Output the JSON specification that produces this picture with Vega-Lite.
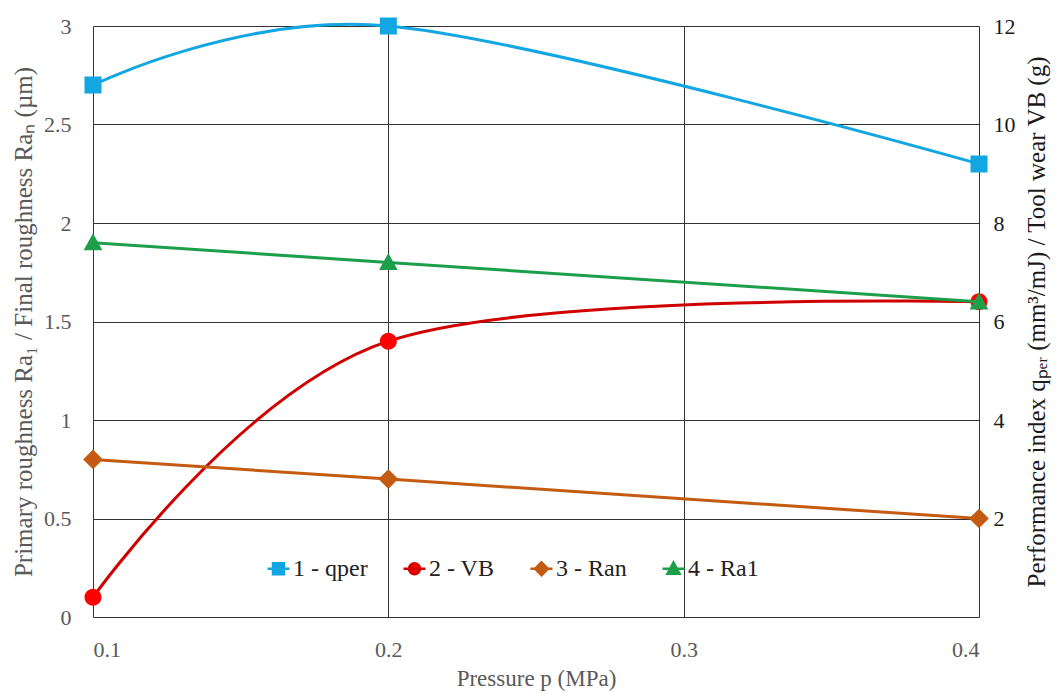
{
  "$schema": "https://vega.github.io/schema/vega-lite/v6.json",
  "width": 886,
  "height": 591,
  "autosize": {"type": "none"},
  "padding": {"left": 93, "top": 26, "right": 77, "bottom": 76},
  "background": "white",
  "config": {
    "view": {"stroke": null},
    "font": "Liberation Serif",
    "legend": {
      "orient": "none",
      "legendX": 173,
      "legendY": 530,
      "direction": "horizontal",
      "title": null,
      "symbolSize": 484,
      "symbolStrokeWidth": 2.5,
      "labelFont": "Liberation Serif",
      "labelFontSize": 24,
      "labelColor": "#222222",
      "columnPadding": 30,
      "labelOffset": 2
    }
  },
  "data": {
    "values": [
      {"p": 0.1, "series": "1 - qper", "value": 10.8, "axis": "right"},
      {"p": 0.2, "series": "1 - qper", "value": 12.0, "axis": "right"},
      {"p": 0.4, "series": "1 - qper", "value": 9.2, "axis": "right"},
      {"p": 0.1, "series": "2 - VB", "value": 0.4, "axis": "right"},
      {"p": 0.2, "series": "2 - VB", "value": 5.6, "axis": "right"},
      {"p": 0.4, "series": "2 - VB", "value": 6.4, "axis": "right"},
      {"p": 0.1, "series": "3 - Ran", "value": 0.8, "axis": "left"},
      {"p": 0.2, "series": "3 - Ran", "value": 0.7, "axis": "left"},
      {"p": 0.4, "series": "3 - Ran", "value": 0.5, "axis": "left"},
      {"p": 0.1, "series": "4 - Ra1", "value": 1.9, "axis": "left"},
      {"p": 0.2, "series": "4 - Ra1", "value": 1.8, "axis": "left"},
      {"p": 0.4, "series": "4 - Ra1", "value": 1.6, "axis": "left"}
    ]
  },
  "encoding": {
    "x": {
      "field": "p",
      "type": "quantitative",
      "scale": {"domain": [0.1, 0.4], "nice": false, "zero": false},
      "axis": {
        "values": [0.1, 0.2, 0.3, 0.4],
        "format": ".1f",
        "title": "Pressure p (MPa)",
        "grid": true,
        "gridColor": "#333333",
        "gridOpacity": 1,
        "domain": false,
        "ticks": false,
        "labelPadding": 22,
        "labelFont": "Liberation Serif",
        "labelFontSize": 22,
        "labelColor": "#595959",
        "titleFont": "Liberation Serif",
        "titleFontSize": 23,
        "titleFontWeight": "normal",
        "titleColor": "#595959",
        "titlePadding": 7
      }
    }
  },
  "layer": [
    {
      "transform": [{"filter": "datum.axis === 'right'"}],
      "encoding": {
        "y": {
          "field": "value",
          "type": "quantitative",
          "scale": {"domain": [0, 12], "nice": false},
          "axis": {
            "orient": "right",
            "values": [2, 4, 6, 8, 10, 12],
            "format": "d",
            "title": "Performance index qₚₑᵣ (mm³/mJ) / Tool wear VB (g)",
            "grid": false,
            "domain": false,
            "ticks": false,
            "labelPadding": 14,
            "labelFont": "Liberation Serif",
            "labelFontSize": 22,
            "labelColor": "#1a1a1a",
            "titleFont": "Liberation Serif",
            "titleFontSize": 25,
            "titleFontWeight": "normal",
            "titleColor": "#1a1a1a",
            "titleAngle": -90,
            "titlePadding": 34
          }
        }
      },
      "layer": [
        {
          "mark": {"type": "line", "interpolate": "cardinal", "tension": 0, "strokeWidth": 3},
          "encoding": {
            "stroke": {
              "field": "series",
              "type": "nominal",
              "scale": {"domain": ["1 - qper", "2 - VB", "3 - Ran", "4 - Ra1"], "range": ["#12a6e2", "#d00000", "#c55a11", "#1c9e4a"]}
            }
          }
        },
        {
          "mark": {"type": "point", "filled": true, "opacity": 1, "size": 1156},
          "encoding": {
            "color": {
              "field": "series",
              "type": "nominal",
              "scale": {"domain": ["1 - qper", "2 - VB", "3 - Ran", "4 - Ra1"], "range": ["#12a6e2", "#ff0000", "#c55a11", "#1c9e4a"]}
            },
            "shape": {
              "field": "series",
              "type": "nominal",
              "scale": {
                "domain": ["1 - qper", "2 - VB", "3 - Ran", "4 - Ra1"],
                "range": [
                  "M-1,0H1M-0.5,-0.5H0.5V0.5H-0.5Z",
                  "M-1,0H1M-0.5,0A0.5,0.5,0,1,1,0.5,0A0.5,0.5,0,1,1,-0.5,0Z",
                  "M-1,0H1M0,-0.58L0.58,0L0,0.58L-0.58,0Z",
                  "M-1,0H1M0,-0.55L0.55,0.45L-0.55,0.45Z"
                ]
              }
            }
          }
        }
      ]
    },
    {
      "transform": [{"filter": "datum.axis === 'left'"}],
      "encoding": {
        "y": {
          "field": "value",
          "type": "quantitative",
          "scale": {"domain": [0, 3], "nice": false},
          "axis": {
            "orient": "left",
            "values": [0, 0.5, 1, 1.5, 2, 2.5, 3],
            "format": "~g",
            "title": "Primary roughness Ra₁ / Final roughness Raₙ (µm)",
            "grid": true,
            "gridColor": "#333333",
            "gridOpacity": 1,
            "domain": false,
            "ticks": false,
            "labelPadding": 22,
            "labelFont": "Liberation Serif",
            "labelFontSize": 22,
            "labelColor": "#595959",
            "titleFont": "Liberation Serif",
            "titleFontSize": 25,
            "titleFontWeight": "normal",
            "titleColor": "#595959",
            "titlePadding": 7
          }
        }
      },
      "layer": [
        {
          "mark": {"type": "line", "interpolate": "linear", "strokeWidth": 3},
          "encoding": {
            "stroke": {
              "field": "series",
              "type": "nominal",
              "scale": {"domain": ["1 - qper", "2 - VB", "3 - Ran", "4 - Ra1"], "range": ["#12a6e2", "#d00000", "#c55a11", "#1c9e4a"]}
            }
          }
        },
        {
          "mark": {"type": "point", "filled": true, "opacity": 1, "size": 1156},
          "encoding": {
            "color": {
              "field": "series",
              "type": "nominal",
              "scale": {"domain": ["1 - qper", "2 - VB", "3 - Ran", "4 - Ra1"], "range": ["#12a6e2", "#ff0000", "#c55a11", "#1c9e4a"]}
            },
            "shape": {
              "field": "series",
              "type": "nominal",
              "scale": {
                "domain": ["1 - qper", "2 - VB", "3 - Ran", "4 - Ra1"],
                "range": [
                  "M-1,0H1M-0.5,-0.5H0.5V0.5H-0.5Z",
                  "M-1,0H1M-0.5,0A0.5,0.5,0,1,1,0.5,0A0.5,0.5,0,1,1,-0.5,0Z",
                  "M-1,0H1M0,-0.58L0.58,0L0,0.58L-0.58,0Z",
                  "M-1,0H1M0,-0.55L0.55,0.45L-0.55,0.45Z"
                ]
              }
            }
          }
        }
      ]
    }
  ],
  "resolve": {"scale": {"y": "independent"}}
}
